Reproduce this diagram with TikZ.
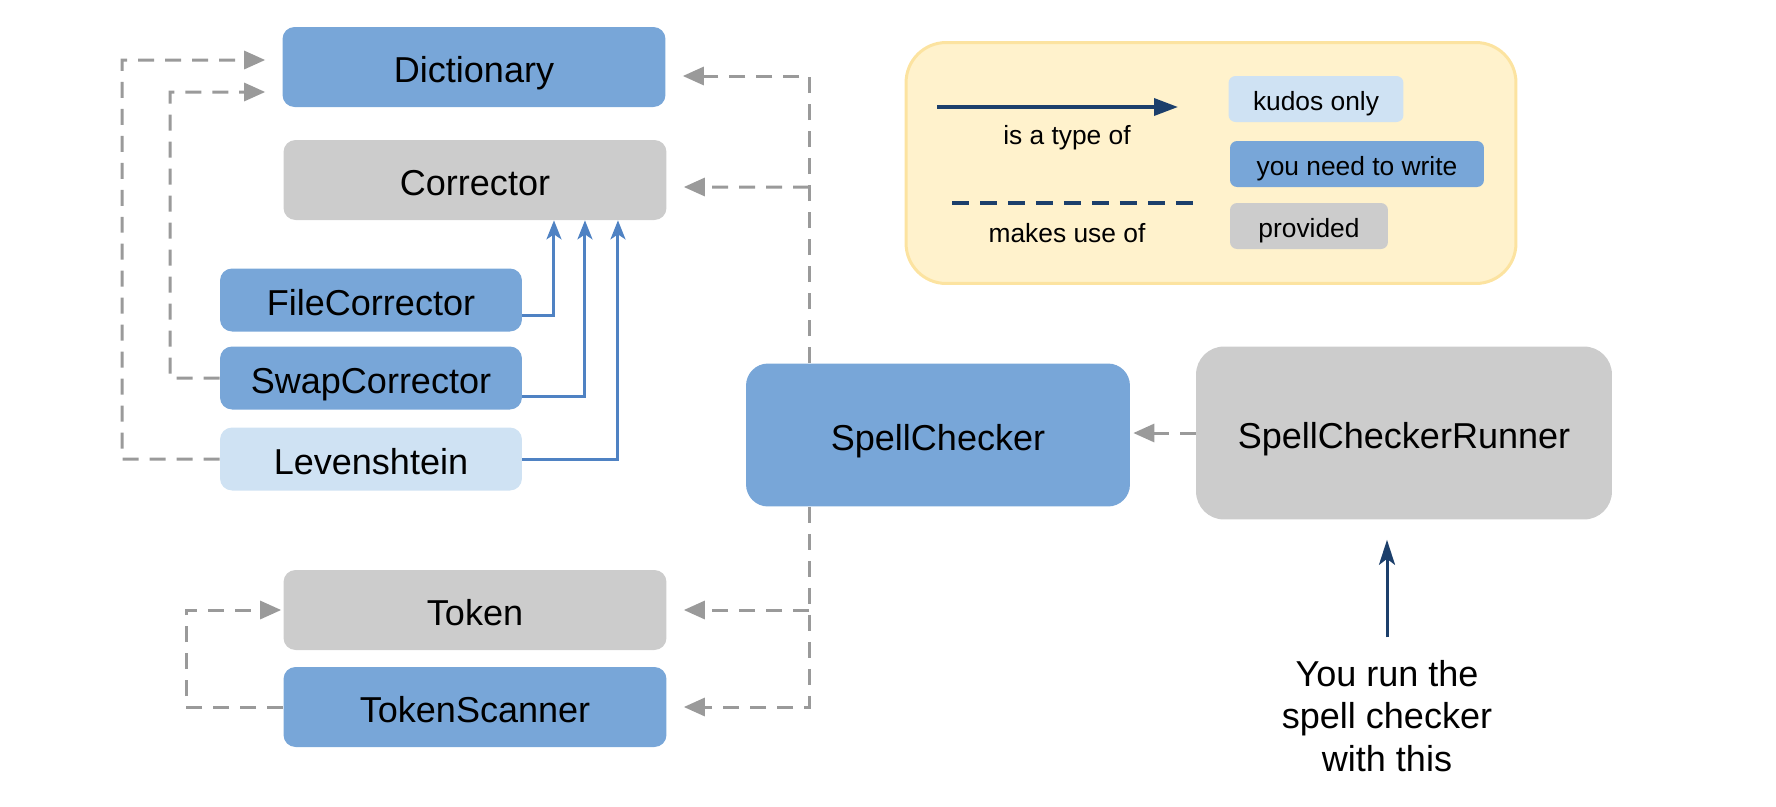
\documentclass[tikz,border=0pt]{standalone}
\usepackage{fontspec}
\setmainfont{Liberation Sans}
\usepackage{xcolor}
\usepackage{tikz}
\usetikzlibrary{
    arrows.meta
}
\definecolor{writeblue}{HTML}{78A6D8}
\definecolor{kudosblue}{HTML}{CFE2F3}
\definecolor{givengray}{HTML}{CCCCCC}
\definecolor{usegray}{HTML}{9A9A9A}
\definecolor{typeblue}{HTML}{4F82C3}
\definecolor{navy}{HTML}{1C3F6B}
\definecolor{notefill}{HTML}{FFF2CC}
\definecolor{notedraw}{HTML}{FCE3A0}
\tikzstyle{classbox} = [
    rounded corners=0.24cm,
    inner sep=0pt,
    text height=19.5pt,
    text depth=2pt,
    font=\fontsize{20.5}{24}\selectfont
]
\tikzstyle{towrite} = [classbox, fill=writeblue]
\tikzstyle{given} = [classbox, fill=givengray]
\tikzstyle{kudos} = [classbox, fill=kudosblue]
\tikzstyle{bigbox} = [minimum width=7.66cm, minimum height=1.6cm]
\tikzstyle{smallbox} = [minimum width=6.04cm, minimum height=1.26cm]
\tikzstyle{legendbox} = [
    minimum height=0.92cm,
    rounded corners=0.14cm,
    text height=14.6pt,
    text depth=1pt,
    font=\fontsize{15}{18}\selectfont
]
\tikzstyle{typeline} = [
    typeblue,
    line width=0.06cm,
    -{Stealth[length=0.38cm,width=0.3cm,inset=0.1cm]}
]
\tikzstyle{usesline} = [
    usegray,
    line width=0.06cm,
    dash pattern=on 0.32cm off 0.22cm,
    -{Triangle[length=0.42cm,width=0.36cm]},
    shorten >=0.34cm
]
\tikzstyle{keyline} = [navy, line width=0.07cm]
\tikzstyle{keytext} = [font=\fontsize{15}{18}\selectfont]

\begin{document}
\begin{tikzpicture}[x=0.02cm, y=-0.02cm]
\useasboundingbox (0,0) rectangle (1776,806);

% classes
\node[towrite, bigbox]  (dict)     at (474,67)  {Dictionary};
\node[given, bigbox]    (corr)     at (475,180) {Corrector};
\node[towrite, smallbox] (filecorr) at (371,300) {FileCorrector};
\node[towrite, smallbox] (swapcorr) at (371,378) {SwapCorrector};
\node[kudos, smallbox]  (lev)      at (371,459) {Levenshtein};
\node[given, bigbox]    (token)    at (475,610) {Token};
\node[towrite, bigbox]  (tscan)    at (475,707) {TokenScanner};
\node[towrite, minimum width=7.68cm, minimum height=2.86cm, rounded corners=0.44cm] (spell) at (938,435) {SpellChecker};
\node[given, minimum width=8.32cm, minimum height=3.46cm, rounded corners=0.56cm] (runner) at (1404,433) {SpellCheckerRunner};

% is a type of
\draw[typeline] ([yshift=-0.3cm]filecorr.east) -| ([xshift=1.58cm]corr.south);
\draw[typeline] ([yshift=-0.36cm]swapcorr.east) -| ([xshift=2.2cm]corr.south);
\draw[typeline] (lev.east) -| ([xshift=2.86cm]corr.south);

% makes use of
\draw[usesline] (lev.west) -| (122,60) -- ([yshift=0.14cm]dict.west);
\draw[usesline] (swapcorr.west) -| (170,92) -- ([yshift=-0.5cm]dict.west);
\coordinate (busup)   at ([xshift=-2.58cm]spell.north);
\coordinate (busdown) at ([xshift=-2.58cm]spell.south);
\draw[usesline] (busup) |- ([yshift=-0.18cm]dict.east);
\draw[usesline] (busup |- corr.east) ++(0,7) -- ([yshift=-0.14cm]corr.east);
\draw[usesline] (busdown) |- (tscan.east);
\draw[usesline] (busdown |- token.east) -- (token.east);
\draw[usesline, shorten >=0.04cm] (tscan.west) -- ++(-97,0) |- (token.west);
\draw[usesline, shorten >=0.06cm] (runner.west) -- (runner.west -| spell.east);

% legend
\node[draw=notedraw, fill=notefill, line width=0.06cm, rounded corners=0.8cm,
      minimum width=12.2cm, minimum height=4.82cm] (legend) at (1211,163) {};
\node[kudos, legendbox, minimum width=3.5cm]    (kudoskey) at (1316,99)  {kudos only};
\node[towrite, legendbox, minimum width=5.08cm] (writekey) at (1357,164) {you need to write};
\node[given, legendbox, minimum width=3.16cm]   (givenkey) at (1309,226) {provided};
\coordinate (typefrom) at (937,107);
\coordinate (typeto)   at (1178,107);
\draw[keyline, -{Triangle[length=0.48cm,width=0.34cm]}] (typefrom) -- (typeto);
\node[keytext] (typelabel) at (1067,138) {is a type of};
\coordinate (usefrom) at (952,203);
\coordinate (useto)   at (1193,203);
\draw[keyline, dash pattern=on 0.34cm off 0.22cm] (usefrom) -- (useto);
\node[keytext] (uselabel) at (1067,233) {makes use of};

% how to run it
\node[align=center, inner sep=0pt, font=\fontsize{20.5}{24}\selectfont] (note) at (1387,716) {You run the\\spell checker\\with this};
\draw[navy, line width=0.06cm, -{Stealth[length=0.5cm,width=0.32cm,inset=0.12cm]},
      shorten <=0.46cm, shorten >=0.4cm] (note.north) -- (note.north |- runner.south);
\end{tikzpicture}
\end{document}
